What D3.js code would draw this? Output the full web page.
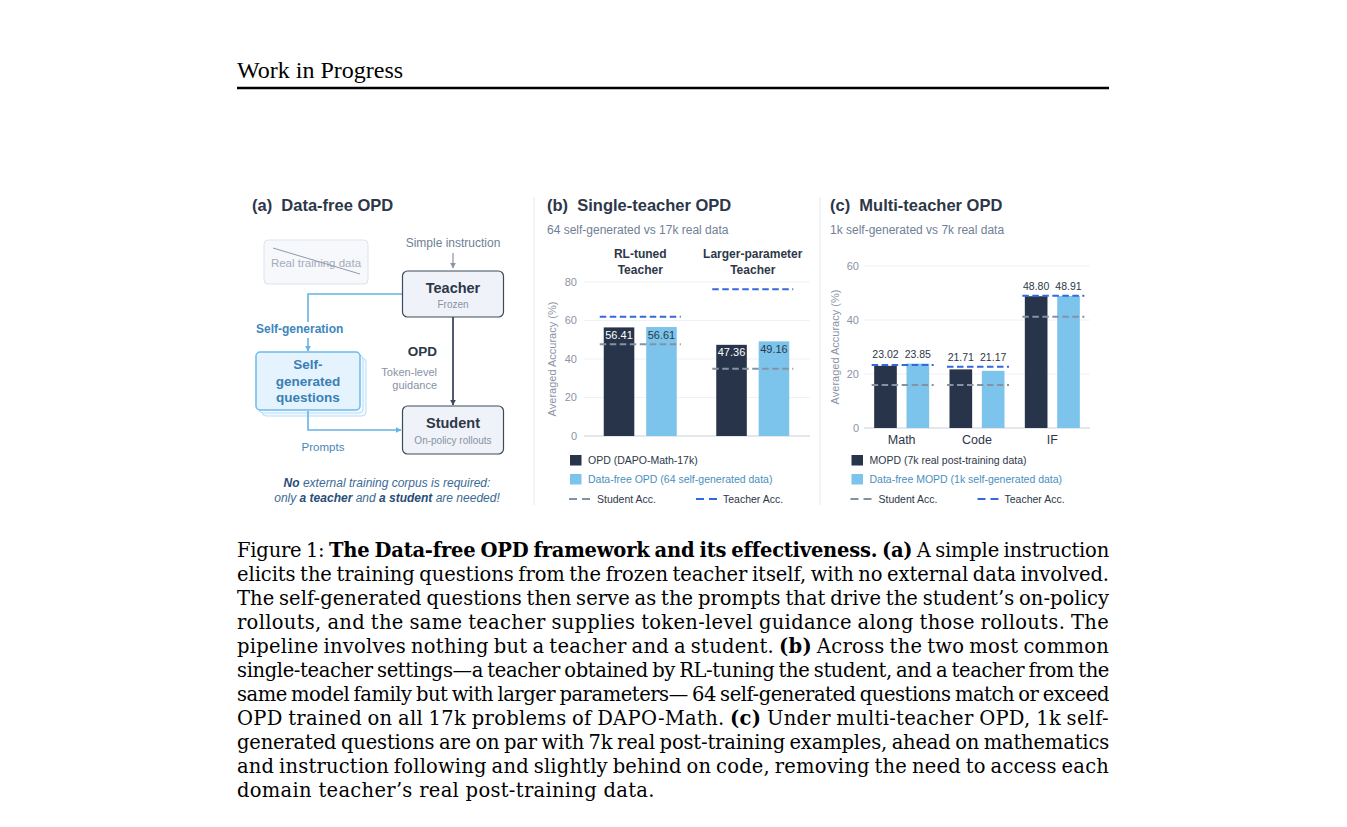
<!DOCTYPE html>
<html lang="en">
<head>
<meta charset="utf-8">
<style>
  body { margin: 0; background: #fff; }
  svg { display: block; }
</style>
</head>
<body>
<script src="https://cdn.jsdelivr.net/npm/d3@7"></script>
<div id="fig"></div>
<script>
// ---- data: panel (b) single-teacher OPD
var groupsB = ["RL-tuned|Teacher", "Larger-parameter|Teacher"];
var opdB = [56.41, 47.36];
var freeB = [56.61, 49.16];
var teacherB = [62.0, 76.2];
var studentB = [47.6, 35.0];
var ticksB = [0, 20, 40, 60, 80];

// ---- data: panel (c) multi-teacher OPD
var catsC = ["Math", "Code", "IF"];
var mopdC = [23.02, 21.71, 48.80];
var freeC = [23.85, 21.17, 48.91];
var teacherC = [23.3, 22.7, 49.0];
var studentC = [15.9, 15.9, 41.2];
var ticksC = [0, 20, 40, 60];

var sans = "'Liberation Sans', Arial, sans-serif";
var serif = "'Liberation Serif', 'Times New Roman', serif";
var capSerif = "'DejaVu Serif', serif";
var DARK = "#27344a", LIGHT = "#7cc4ec", INK = "#2d3748", GREY = "#718096";
var TEACH = "#3567de", STUD = "#8592a6";

var svg = d3.select("#fig").append("svg").attr("width", 1347).attr("height", 827);
svg.append("rect").attr("width", 1347).attr("height", 827).attr("fill", "#fff");

// arrow markers
var defs = svg.append("defs");
function marker(id, col) {
    defs.append("marker").attr("id", id).attr("viewBox", "0 0 10 10").attr("refX", 9).attr("refY", 5)
        .attr("markerWidth", 6).attr("markerHeight", 6).attr("markerUnits", "userSpaceOnUse").attr("orient", "auto")
        .append("path").attr("d", "M0,0 L10,5 L0,10 z").attr("fill", col);
}
marker("arDark", "#3d4a5e");
marker("arBlue", "#64b4e6");
marker("arGrey", "#8a94a6");

// ---- page header
svg.append("text").attr("x", 237).attr("y", 77.5).text("Work in Progress")
    .style("font-family", serif).style("font-size", "24px").style("fill", "#000");
svg.append("line").attr("x1", 237).attr("x2", 1109).attr("y1", 88).attr("y2", 88)
    .attr("stroke", "#000").attr("stroke-width", 2.6);

// separators between panels
[534, 820].forEach(function (x) {
    svg.append("line").attr("x1", x).attr("x2", x).attr("y1", 197).attr("y2", 505)
        .attr("stroke", "#e6e9ef").attr("stroke-width", 1);
});

function txt(g, x, y, s, size, col, weight, anchor, style) {
    return g.append("text").attr("x", x).attr("y", y).text(s)
        .style("font-family", sans).style("font-size", size + "px").style("fill", col)
        .style("font-weight", weight || "normal").style("font-style", style || "normal")
        .attr("text-anchor", anchor || "start");
}

// ---- panel (a): diagram
var a = svg.append("g");
txt(a, 252, 211, "(a)\u00a0\u00a0Data-free OPD", 16.5, INK, "bold");

a.append("rect").attr("x", 264).attr("y", 240).attr("width", 104).attr("height", 44).attr("rx", 4)
    .attr("fill", "#f7f8fb").attr("stroke", "#dde2ea");
txt(a, 316, 267, "Real training data", 11.5, "#a3adbd", "normal", "middle");
a.append("line").attr("x1", 273).attr("y1", 248).attr("x2", 360).attr("y2", 274)
    .attr("stroke", "#8f9aac").attr("stroke-width", 1);

txt(a, 453, 246.5, "Simple instruction", 12, GREY, "normal", "middle");
a.append("line").attr("x1", 453).attr("x2", 453).attr("y1", 253).attr("y2", 268)
    .attr("stroke", "#8a94a6").attr("stroke-width", 1.2).attr("marker-end", "url(#arGrey)");

// blue self-generation path
a.append("path").attr("d", "M402,294 H308 V322").attr("fill", "none").attr("stroke", "#64b4e6").attr("stroke-width", 1.6);
a.append("path").attr("d", "M308,338 V351").attr("fill", "none").attr("stroke", "#64b4e6").attr("stroke-width", 1.6)
    .attr("marker-end", "url(#arBlue)");
txt(a, 256, 333, "Self-generation", 12, "#3d86bb", "bold");

// stacked question cards
[6, 3, 0].forEach(function (o) {
    a.append("rect").attr("x", 256 + o).attr("y", 352 + o).attr("width", 104).attr("height", 58).attr("rx", 4)
        .attr("fill", o ? "#f3f9fe" : "#e4f3fd").attr("stroke", o ? "#b9def4" : "#6cbbea").attr("stroke-width", o ? 1 : 1.5);
});
txt(a, 308, 369, "Self-", 13.5, "#3a7fb3", "bold", "middle");
txt(a, 308, 385.5, "generated", 13.5, "#3a7fb3", "bold", "middle");
txt(a, 308, 401.5, "questions", 13.5, "#3a7fb3", "bold", "middle");

a.append("path").attr("d", "M308,411 V430 H401").attr("fill", "none").attr("stroke", "#64b4e6").attr("stroke-width", 1.6)
    .attr("marker-end", "url(#arBlue)");
txt(a, 323, 451, "Prompts", 11.5, "#4a86b5", "normal", "middle");

// teacher -> student
a.append("line").attr("x1", 453).attr("x2", 453).attr("y1", 317).attr("y2", 405)
    .attr("stroke", "#3d4a5e").attr("stroke-width", 1.8).attr("marker-end", "url(#arDark)");
txt(a, 437, 355.5, "OPD", 13.5, INK, "bold", "end");
txt(a, 437, 375.5, "Token-level", 11, "#8792a3", "normal", "end");
txt(a, 437, 389, "guidance", 11, "#8792a3", "normal", "end");

[[271, "Teacher", "Frozen"], [406, "Student", "On-policy rollouts"]].forEach(function (b) {
    a.append("rect").attr("x", 402.5).attr("y", b[0]).attr("width", 101).attr("height", b[0] === 271 ? 46 : 48).attr("rx", 5)
        .attr("fill", "#eff2f8").attr("stroke", "#3d4a5e").attr("stroke-width", 1.2);
    txt(a, 453, b[0] + 21.5, b[1], 14.5, INK, "bold", "middle");
    txt(a, 453, b[0] + (b[0] === 271 ? 37 : 37.5), b[2], 10, "#8792a3", "normal", "middle");
});

var n1 = a.append("text").attr("x", 387).attr("y", 487).attr("text-anchor", "middle")
    .style("font-family", sans).style("font-size", "12px").style("font-style", "italic").style("fill", "#3b6a94");
n1.append("tspan").style("font-weight", "bold").style("fill", "#284e78").text("No");
n1.append("tspan").text(" external training corpus is required:");
var n2 = a.append("text").attr("x", 387).attr("y", 501.5).attr("text-anchor", "middle")
    .style("font-family", sans).style("font-size", "12px").style("font-style", "italic").style("fill", "#3b6a94");
n2.append("tspan").text("only ");
n2.append("tspan").style("font-weight", "bold").style("fill", "#284e78").text("a teacher");
n2.append("tspan").text(" and ");
n2.append("tspan").style("font-weight", "bold").style("fill", "#284e78").text("a student");
n2.append("tspan").text(" are needed!");

// ---- shared axis pieces
function yAxis(g, y, ticks, x0, x1, labelRight, titleX) {
    ticks.forEach(function (t) {
        g.append("line").attr("x1", x0).attr("x2", x1).attr("y1", y(t)).attr("y2", y(t))
            .attr("stroke", t === 0 ? "#c9cfd9" : "#eef1f5").attr("stroke-width", t === 0 ? 1.2 : 1);
        txt(g, labelRight, y(t), t, 11, "#8a94a6", "normal", "end").attr("dy", "0.35em");
    });
    var mid = (y.range()[0] + y.range()[1]) / 2;
    txt(g, 0, 0, "Averaged Accuracy (%)", 11, "#8a94a6", "normal", "middle")
        .attr("x", null).attr("y", null)
        .attr("transform", "translate(" + titleX + "," + mid + ") rotate(-90)");
}

function refLine(g, x1, x2, yv, col) {
    g.append("line").attr("x1", x1).attr("x2", x2).attr("y1", yv).attr("y2", yv)
        .attr("stroke", col).attr("stroke-width", 2).attr("stroke-dasharray", "6.5,3.5");
}

function legend(g, x, labels, dashX) {
    g.append("rect").attr("x", x).attr("y", 455).attr("width", 11.5).attr("height", 10.5).attr("fill", DARK);
    txt(g, x + 18, 464, labels[0], 10.5, INK);
    g.append("rect").attr("x", x).attr("y", 474).attr("width", 11.5).attr("height", 10.5).attr("fill", LIGHT);
    txt(g, x + 18, 482.5, labels[1], 10.5, "#4a8fc0");
    g.append("line").attr("x1", x - 1).attr("x2", x + 21).attr("y1", 499).attr("y2", 499)
        .attr("stroke", STUD).attr("stroke-width", 2).attr("stroke-dasharray", "8,5");
    txt(g, x + 27, 503, "Student Acc.", 10.5, INK);
    g.append("line").attr("x1", dashX).attr("x2", dashX + 21).attr("y1", 499).attr("y2", 499)
        .attr("stroke", TEACH).attr("stroke-width", 2).attr("stroke-dasharray", "8,5");
    txt(g, dashX + 27, 503, "Teacher Acc.", 10.5, INK);
}

// ---- panel (b)
var b = svg.append("g");
txt(b, 547, 211, "(b)\u00a0\u00a0Single-teacher OPD", 16.5, INK, "bold");
txt(b, 547, 234, "64 self-generated vs 17k real data", 12, GREY);

var yB = d3.scaleLinear().domain([0, 80]).range([436, 282]);
var xB = d3.scaleBand().domain(groupsB).range([584, 809]);
var sB = d3.scaleBand().domain([0, 1]).range([-36.5, 36.5]).paddingInner(0.28);
yAxis(b, yB, ticksB, 584, 810, 577, 556);

groupsB.forEach(function (gname, i) {
    var cx = xB(gname) + xB.bandwidth() / 2;
    gname.split("|").forEach(function (line, k) {
        txt(b, cx, 257.5 + k * 16, line, 12, INK, "bold", "middle");
    });
    [[opdB[i], DARK, "#fff"], [freeB[i], LIGHT, INK]].forEach(function (s, k) {
        var x = cx + sB(k);
        b.append("rect").attr("x", x).attr("y", yB(s[0])).attr("width", sB.bandwidth())
            .attr("height", yB(0) - yB(s[0])).attr("fill", s[1]);
        txt(b, x + sB.bandwidth() / 2, yB(s[0]) + 11.5, s[0].toFixed(2), 11, s[2], "normal", "middle");
    });
    refLine(b, cx - 40.5, cx + 40.5, yB(studentB[i]), STUD);
    refLine(b, cx - 40.5, cx + 40.5, yB(teacherB[i]), TEACH);
});
legend(b, 570, ["OPD (DAPO-Math-17k)", "Data-free OPD (64 self-generated data)"], 696);

// ---- panel (c)
var c = svg.append("g");
txt(c, 830, 211, "(c)\u00a0\u00a0Multi-teacher OPD", 16.5, INK, "bold");
txt(c, 830, 234, "1k self-generated vs 7k real data", 12, GREY);

var yC = d3.scaleLinear().domain([0, 60]).range([428, 266]);
var xC = d3.scaleBand().domain(catsC).range([864, 1090]);
var sC = d3.scaleBand().domain([0, 1]).range([-27.5, 27.5]).paddingInner(0.3);
yAxis(c, yC, ticksC, 864, 1090, 859, 839);

catsC.forEach(function (cat, i) {
    var cx = xC(cat) + xC.bandwidth() / 2;
    txt(c, cx, 444, cat, 12.5, INK, "normal", "middle");
    var top = yC(d3.max([mopdC[i], freeC[i], teacherC[i]])) - 6;
    [[mopdC[i], DARK], [freeC[i], LIGHT]].forEach(function (s, k) {
        var x = cx + sC(k);
        c.append("rect").attr("x", x).attr("y", yC(s[0])).attr("width", sC.bandwidth())
            .attr("height", yC(0) - yC(s[0])).attr("fill", s[1]);
        txt(c, x + sC.bandwidth() / 2, top, s[0].toFixed(2), 10.5, INK, "normal", "middle");
    });
    refLine(c, cx - 30, cx + 32, yC(studentC[i]), STUD);
    refLine(c, cx - 30, cx + 32, yC(teacherC[i]), TEACH);
});
legend(c, 851.5, ["MOPD (7k real post-training data)", "Data-free MOPD (1k self-generated data)"], 977.5);

// ---- caption, justified line by line
var caption = [
    [["Figure 1: ", 0], ["The Data-free OPD framework and its effectiveness.", 1], [" ", 0], ["(a)", 1], [" A simple instruction", 0]],
    [["elicits the training questions from the frozen teacher itself, with no external data involved.", 0]],
    [["The self-generated questions then serve as the prompts that drive the student\u2019s on-policy", 0]],
    [["rollouts, and the same teacher supplies token-level guidance along those rollouts. The", 0]],
    [["pipeline involves nothing but a teacher and a student. ", 0], ["(b)", 1], [" Across the two most common", 0]],
    [["single-teacher settings\u2014a teacher obtained by RL-tuning the student, and a teacher from the", 0]],
    [["same model family but with larger parameters\u2014 64 self-generated questions match or exceed", 0]],
    [["OPD trained on all 17k problems of DAPO-Math. ", 0], ["(c)", 1], [" Under multi-teacher OPD, 1k self-", 0]],
    [["generated questions are on par with 7k real post-training examples, ahead on mathematics", 0]],
    [["and instruction following and slightly behind on code, removing the need to access each", 0]],
    [["domain teacher\u2019s real post-training data.", 0]]
];
var baseLS = 0.3;
caption.forEach(function (parts, i) {
    var t = svg.append("text").attr("x", 237).attr("y", 557 + i * 24)
        .style("font-family", capSerif).style("font-size", "19.5px").style("fill", "#000")
        .style("letter-spacing", baseLS + "px");
    parts.forEach(function (p) {
        t.append("tspan").style("font-weight", p[1] ? "bold" : "normal").text(p[0]);
    });
    if (i < caption.length - 1) {
        var s = parts.map(function (p) { return p[0]; }).join("");
        var w = t.node().getComputedTextLength();
        var spaces = s.split(" ").length - 1;
        var ws = (872 - w) / spaces;
        if (ws < -1.5) {
            // too long: squeeze letters a little, keep spaces nearly intact
            var ls = baseLS + (872 - w + 1.5 * spaces) / s.length;
            t.style("letter-spacing", ls + "px");
            w = t.node().getComputedTextLength();
            ws = (872 - w) / spaces;
        }
        t.style("word-spacing", ws + "px");
    }
});
</script>
</body>
</html>
